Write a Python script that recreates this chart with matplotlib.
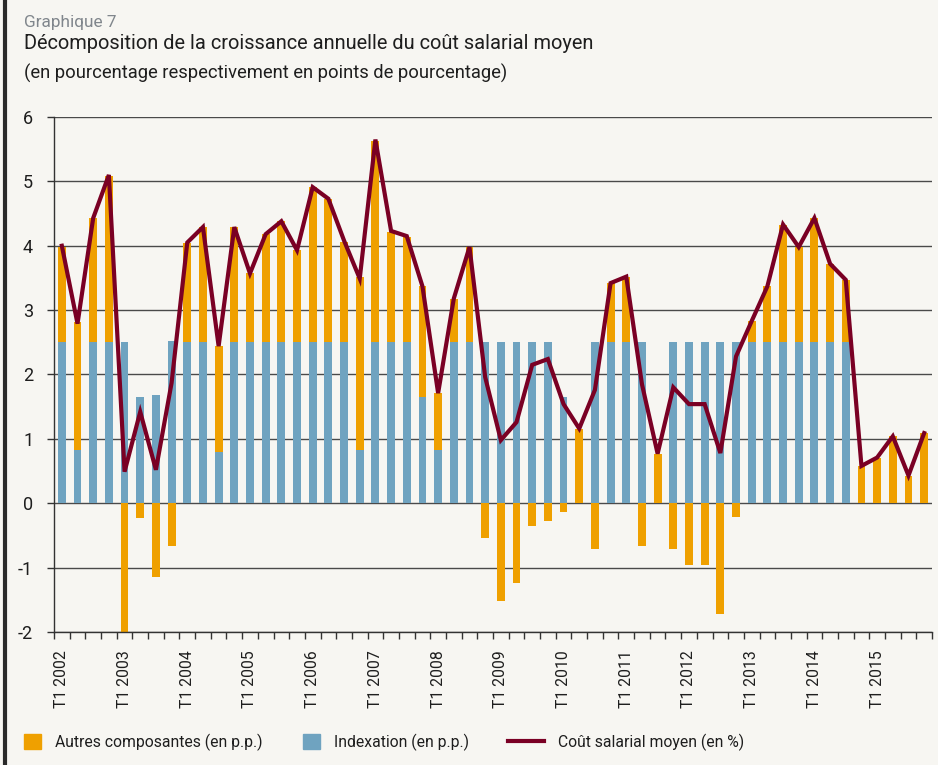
import matplotlib
matplotlib.use("Agg")
import matplotlib.pyplot as plt
import numpy as np
from matplotlib.patches import Patch
from matplotlib.lines import Line2D

# ---- data ----
years = list(range(2002, 2016))
quarters = [f"T{q} {y}" for y in years for q in range(1, 5)]

indexation = [2.5, 0.83, 2.5, 2.5, 2.5, 1.65, 1.68, 2.52,
              2.5, 2.5, 0.8, 2.5, 2.5, 2.5, 2.5, 2.5,
              2.5, 2.5, 2.5, 0.83, 2.5, 2.5, 2.5, 1.65,
              0.83, 2.5, 2.5, 2.5, 2.5, 2.5, 2.5, 2.5,
              1.65, 0.0, 2.5, 2.5, 2.5, 2.5, 0.0, 2.5,
              2.5, 2.5, 2.5, 2.5, 2.5, 2.5, 2.5, 2.5,
              2.5, 2.5, 2.5, 0.0, 0.0, 0.0, 0.0, 0.0]

autres = [1.48, 1.98, 1.93, 2.59, -2.0, -0.23, -1.15, -0.67,
          1.55, 1.79, 1.65, 1.79, 1.07, 1.68, 1.88, 1.43,
          2.41, 2.23, 1.56, 2.68, 3.13, 1.71, 1.64, 1.72,
          0.88, 0.68, 1.48, -0.54, -1.52, -1.24, -0.35, -0.28,
          -0.14, 1.16, -0.71, 0.92, 1.02, -0.67, 0.77, -0.71,
          -0.96, -0.96, -1.72, -0.22, 0.33, 0.87, 1.83, 1.48,
          1.93, 1.22, 0.97, 0.58, 0.71, 1.04, 0.43, 1.09]

cout = [4.0, 2.79, 4.43, 5.1, 0.49, 1.42, 0.52, 1.87,
        4.05, 4.29, 2.44, 4.29, 3.57, 4.18, 4.38, 3.93,
        4.91, 4.73, 4.08, 3.49, 5.65, 4.23, 4.15, 3.37,
        1.71, 3.18, 3.98, 1.96, 0.98, 1.26, 2.15, 2.24,
        1.54, 1.16, 1.76, 3.42, 3.52, 1.85, 0.77, 1.80,
        1.54, 1.54, 0.78, 2.28, 2.83, 3.37, 4.33, 3.98,
        4.43, 3.72, 3.47, 0.58, 0.71, 1.04, 0.43, 1.09]

yticks = [-2, -1, 0, 1, 2, 3, 4, 5, 6]

# ---- style ----
BG = "#f7f6f2"
ORANGE = "#efa000"
BLUE = "#6fa3c0"
RED = "#7a0024"
GRID = "#4a4a4a"
TXT = "#1e1e1e"
FONT = ["Roboto", "DejaVu Sans"]
plt.rcParams["font.family"] = FONT

W, H = 938, 765
fig = plt.figure(figsize=(W / 100, H / 100), dpi=100, facecolor=BG)
ax = fig.add_axes([54 / W, 1 - 632 / H, (932 - 54) / W, (632 - 117) / H])
ax.set_facecolor(BG)

x = np.arange(len(quarters))
idx = np.array(indexation)
oth = np.array(autres)
bottom_oth = np.where(oth >= 0, idx, 0.0)

ax.set_ylim(-2, 6)
ax.set_xlim(-0.5, len(quarters) - 0.5)
ax.set_yticks(yticks)
ax.set_yticklabels([str(v) for v in yticks])
ax.yaxis.grid(True, color=GRID, lw=1.0)
ax.set_axisbelow(True)

ax.bar(x, idx, width=0.5, color=BLUE, zorder=2)
ax.bar(x, oth, bottom=bottom_oth, width=0.5, color=ORANGE, zorder=2)
ax.plot(x, cout, color=RED, lw=3.0, zorder=4, solid_joinstyle="miter")

for s in ["top", "right"]:
    ax.spines[s].set_visible(False)
ax.spines["left"].set_color("#333333")
ax.spines["bottom"].set_color("#333333")
ax.spines["left"].set_linewidth(1.0)
ax.spines["bottom"].set_linewidth(1.0)

# x ticks: marks at category boundaries, labels at T1 positions
ax.set_xticks(np.arange(-0.5, len(quarters), 1.0))
ax.set_xticklabels([])
ax.tick_params(axis="x", which="major", direction="out", length=5, width=1, color="#333333")
t1_pos = [i for i, q in enumerate(quarters) if q.startswith("T1")]
ax.set_xticks(t1_pos, minor=True)
ax.set_xticklabels([quarters[i] for i in t1_pos], minor=True, rotation=90,
                   fontsize=11.3, color=TXT)
ax.tick_params(axis="x", which="minor", length=0, pad=13)
ax.tick_params(axis="y", direction="out", length=5, width=1, color="#333333",
               pad=10, labelsize=13, labelcolor=TXT)

# titles
fig.text(24 / W, 1 - 27 / H, "Graphique 7", fontsize=12.4, color="#80868c", va="baseline")
fig.text(24 / W, 1 - 49 / H, "Décomposition de la croissance annuelle du coût salarial moyen",
         fontsize=14.4, color=TXT, va="baseline")
fig.text(24 / W, 1 - 79 / H, "(en pourcentage respectivement en points de pourcentage)",
         fontsize=13.2, color=TXT, va="baseline")

# left border
fig.add_artist(Line2D([5 / W, 5 / W], [0, 1], transform=fig.transFigure, color="#2a2a2a", lw=3))

# legend (three separate entries)
leg_kw = dict(frameon=False, fontsize=11.3, handletextpad=0.9, borderpad=0, borderaxespad=0,
              loc="center left", labelcolor=TXT)
l1 = fig.legend([Patch(color=ORANGE)], ["Autres composantes (en p.p.)"],
                bbox_to_anchor=(24 / W, 1 - 742 / H), handlelength=1.1, handleheight=1.1, **leg_kw)
l2 = fig.legend([Patch(color=BLUE)], ["Indexation (en p.p.)"],
                bbox_to_anchor=(303 / W, 1 - 742 / H), handlelength=1.1, handleheight=1.1, **leg_kw)
l3 = fig.legend([Line2D([0], [0], color=RED, lw=3)], ["Coût salarial moyen (en %)"],
                bbox_to_anchor=(508 / W, 1 - 742 / H), handlelength=2.3, **leg_kw)

fig.savefig("out.png", dpi=100, facecolor=BG)
